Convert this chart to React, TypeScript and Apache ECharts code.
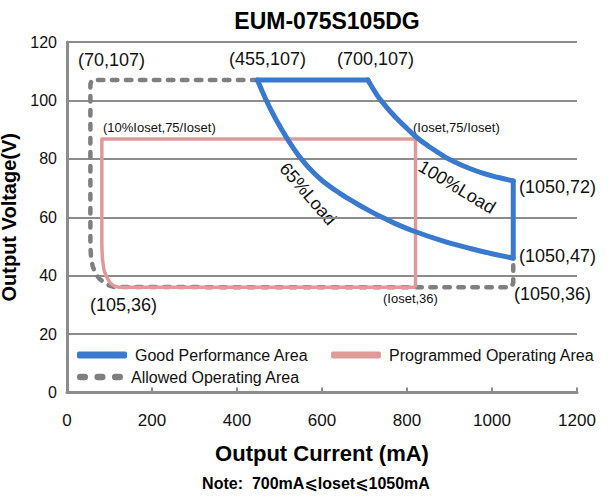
import React, { useEffect, useRef } from "react";
import * as echarts from "echarts";

const chartTitle = "EUM-075S105DG";
const xAxisTitle = "Output Current (mA)";
const yAxisTitle = "Output Voltage(V)";
const noteText = "Note:  700mA\u2A7DIoset\u2A7D1050mA";

const xRange = [0, 1200];
const xStep = 200;
const yRange = [0, 120];
const yStep = 20;

// Good Performance Area
const perfTopEdge: [number, number][] = [[448, 107], [708, 107]];
const load100Curve: [number, number][] = [
  [708, 107], [718, 104.5], [730, 101.7], [742, 99.4], [760, 96.3], [780, 93.2],
  [800, 90.4], [823, 87.3], [850, 84.4], [890, 80.6], [920, 78.4], [949, 76.6],
  [980, 75], [1004, 74], [1030, 73.1], [1050, 72.4],
];
const perfRightEdge: [number, number][] = [[1050, 72.4], [1050, 46]];
const load65Curve: [number, number][] = [
  [448, 107], [458, 103.6], [468, 100.3], [480, 96.7], [495, 92.6], [517, 87.2],
  [544, 81.3], [570, 76.8], [600, 72.6], [643, 68.1], [680, 64.8], [713, 62.1],
  [733, 60.6], [770, 58], [815, 55.3], [880, 52.1], [949, 49.3], [1000, 47.5], [1050, 46],
];

// Programmed Operating Area
const programmedArea: [number, number][] = [
  [820, 36], [820, 86.8], [82, 86.8], [82, 50], [83.5, 45.5], [87, 42],
  [93, 39.6], [102, 37.4], [112, 36.4], [124, 36], [820, 36],
];

// Allowed Operating Area
const allowedArea: [number, number][] = [
  [448, 107], [58, 107], [55, 105.5], [55, 50], [56.5, 46.5], [60, 43.5],
  [66, 41], [76, 39], [88, 37.5], [100, 36.6], [112, 36.1], [1045, 36],
  [1050, 37.5], [1050, 44],
];

const seriesNames = ["Good Performance Area", "Programmed Operating Area", "Allowed Operating Area"];

const annotations: { text: string; x: number; y: number; size: number }[] = [
  { text: "(70,107)", x: 78, y: 60, size: 18 },
  { text: "(455,107)", x: 229, y: 59, size: 18 },
  { text: "(700,107)", x: 337, y: 59, size: 18 },
  { text: "(10%Ioset,75/Ioset)", x: 103, y: 127, size: 13 },
  { text: "(Ioset,75/Ioset)", x: 413, y: 127, size: 13 },
  { text: "(1050,72)", x: 519, y: 187, size: 18 },
  { text: "(1050,47)", x: 519, y: 256, size: 18 },
  { text: "(1050,36)", x: 514, y: 294, size: 18 },
  { text: "(105,36)", x: 90, y: 305, size: 18 },
  { text: "(Ioset,36)", x: 383, y: 298, size: 13 },
];

const rotatedLabels = [
  { text: "65%Load", x: 308, y: 194, size: 18, angle: -49 },
  { text: "100%Load", x: 457, y: 187, size: 18, angle: -31 },
];

const FONT = '"Liberation Sans", Arial, sans-serif';
const BLUE = "#3a7ace";
const PINK = "#e09a9a";
const GRAY = "#7f7f7f";
const GRID = "#8c8c8c";

const dashIcon =
  "path://M3.5,0H8.5A3.5,3.5,0,0,1,8.5,7H3.5A3.5,3.5,0,0,1,3.5,0Z M22.5,0H27.5A3.5,3.5,0,0,1,27.5,7H22.5A3.5,3.5,0,0,1,22.5,0Z M41.5,0H46.5A3.5,3.5,0,0,1,46.5,7H41.5A3.5,3.5,0,0,1,41.5,0Z";

export default function App() {
  const ref = useRef<HTMLDivElement>(null);
  useEffect(() => {
    if (!ref.current) return;
    const chart = echarts.init(ref.current, undefined, { renderer: "svg" });
    const legendBase = {
      orient: "horizontal",
      padding: 0,
      itemWidth: 50,
      itemHeight: 7,
      selectedMode: false,
      textStyle: { fontSize: 16, fontFamily: FONT, color: "#111", padding: [0, 0, 0, 3] },
    };
    const graphics: any[] = [
      {
        type: "text",
        x: 316,
        y: 483,
        style: {
          text: noteText,
          fontSize: 16,
          fontWeight: "bold",
          fontFamily: FONT + ', "DejaVu Sans"',
          fill: "#000",
          align: "center",
          verticalAlign: "middle",
        },
      },
      ...annotations.map((a) => ({
        type: "text",
        x: a.x,
        y: a.y,
        style: {
          text: a.text,
          fontSize: a.size,
          fontFamily: FONT,
          fill: "#111",
          align: "left",
          verticalAlign: "middle",
        },
      })),
      ...rotatedLabels.map((a) => ({
        type: "text",
        x: a.x,
        y: a.y,
        rotation: (a.angle * Math.PI) / 180,
        style: {
          text: a.text,
          fontSize: a.size,
          fontFamily: FONT,
          fill: "#111",
          align: "center",
          verticalAlign: "middle",
        },
      })),
    ];
    const blueStyle = { color: BLUE, width: 5, join: "round", cap: "round" };
    const blueBase = {
      name: seriesNames[0],
      type: "line",
      showSymbol: false,
      symbol: "none",
      color: BLUE,
      z: 4,
      lineStyle: blueStyle,
    };
    chart.setOption({
      animation: false,
      backgroundColor: "#fff",
      title: {
        text: chartTitle,
        left: 322,
        textAlign: "center",
        top: 4,
        textStyle: { fontSize: 23, fontWeight: "bold", fontFamily: FONT, color: "#000" },
      },
      grid: { left: 67, right: 34, top: 42, bottom: 109.5, containLabel: false, outerBoundsMode: "none" },
      xAxis: {
        type: "value",
        min: xRange[0],
        max: xRange[1],
        interval: xStep,
        name: xAxisTitle,
        nameLocation: "middle",
        nameGap: 50,
        nameTextStyle: { fontSize: 22, fontWeight: "bold", fontFamily: FONT, color: "#000" },
        axisLine: { show: true, lineStyle: { color: GRID, width: 3 } },
        axisTick: { show: true, inside: true, length: 5, lineStyle: { color: GRID, width: 2 } },
        axisLabel: {
          fontSize: 17,
          fontFamily: FONT,
          color: "#111",
          margin: 19,
          formatter: (v: number) => String(v),
        },
        splitLine: { show: false },
      },
      yAxis: {
        type: "value",
        min: yRange[0],
        max: yRange[1],
        interval: yStep,
        name: yAxisTitle,
        nameLocation: "middle",
        nameGap: 40,
        nameTextStyle: { fontSize: 20, fontWeight: "bold", fontFamily: FONT, color: "#000" },
        axisLine: { show: true, lineStyle: { color: GRID, width: 3 } },
        axisTick: { show: false },
        axisLabel: {
          fontSize: 16,
          fontFamily: FONT,
          color: "#111",
          margin: 10,
          formatter: (v: number) => String(v),
        },
        splitLine: { show: true, lineStyle: { color: GRID, width: 2 } },
      },
      legend: [
        { ...legendBase, left: 77, top: 347, data: [{ name: seriesNames[0], icon: "roundRect" }] },
        { ...legendBase, left: 331, top: 347, data: [{ name: seriesNames[1], icon: "roundRect" }] },
        { ...legendBase, left: 77, top: 369, itemWidth: 46, data: [{ name: seriesNames[2], icon: dashIcon }] },
      ],
      series: [
        {
          name: seriesNames[2],
          type: "line",
          data: allowedArea,
          showSymbol: false,
          symbol: "none",
          color: GRAY,
          z: 2,
          lineStyle: { color: GRAY, width: 4.5, type: [5.5, 8.5], cap: "round", join: "round" },
        },
        {
          name: seriesNames[1],
          type: "line",
          data: programmedArea,
          showSymbol: false,
          symbol: "none",
          color: PINK,
          z: 3,
          lineStyle: { color: PINK, width: 3.5, join: "round" },
        },
        { ...blueBase, data: perfTopEdge },
        { ...blueBase, data: load100Curve, smooth: 0.4 },
        { ...blueBase, data: perfRightEdge },
        { ...blueBase, data: load65Curve, smooth: 0.4 },
      ],
      graphic: graphics,
    });
    return () => chart.dispose();
  }, []);
  return (
    <div
      ref={ref}
      style={{ position: "fixed", left: 0, top: 0, width: 611, height: 502, background: "#fff" }}
    />
  );
}
